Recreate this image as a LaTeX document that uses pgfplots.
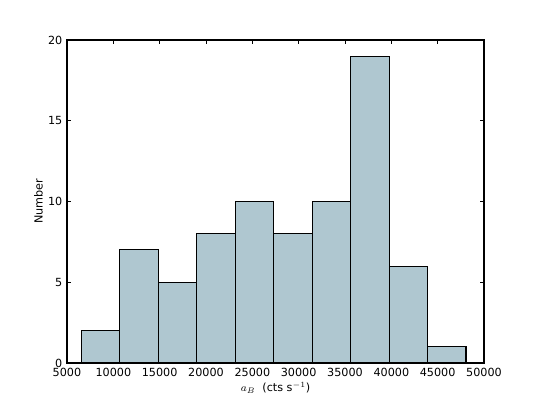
\documentclass[border=0pt]{standalone}
\usepackage{fontspec}
\setmainfont{DejaVu Sans}
\usepackage{pgfplots}
\pgfplotsset{compat=1.18}
\definecolor{barfill}{RGB}{175,199,208}
\begin{document}
\begin{tikzpicture}[x=0.75pt,y=0.75pt]
\begin{axis}[
  at={(0,0)}, anchor=south west,
  scale only axis, width=312.75pt, height=242.25pt,
  xmin=5000, xmax=50000, ymin=0, ymax=20,
  xtick={5000,10000,...,50000}, ytick={0,5,10,15,20},
  scaled ticks=false,
  /pgf/number format/1000 sep={},
  /pgf/number format/assume math mode=true,
  tick pos=both, tick align=inside,
  major tick length=3pt,
  tick style={black, line width=0.5pt},
  axis line style={black, line width=0.8pt},
  font=\fontsize{8.4}{10}\selectfont,
  xlabel={$a_B$\ \ (cts s$^{-1}$)},
  ylabel={Number},
  xlabel style={yshift=2pt},
  ylabel style={yshift=-3pt},
]
\addplot[ybar interval, fill=barfill, draw=black, line width=0.8pt] coordinates {
(6530,2) (10683,7) (14836,5) (18989,8) (23142,10) (27295,8) (31448,10) (35601,19) (39754,6) (43907,1) (48060,1)};
\end{axis}
\pgfresetboundingbox
\path[use as bounding box] (-67,-41) rectangle (471,363);
\end{tikzpicture}
\end{document}
